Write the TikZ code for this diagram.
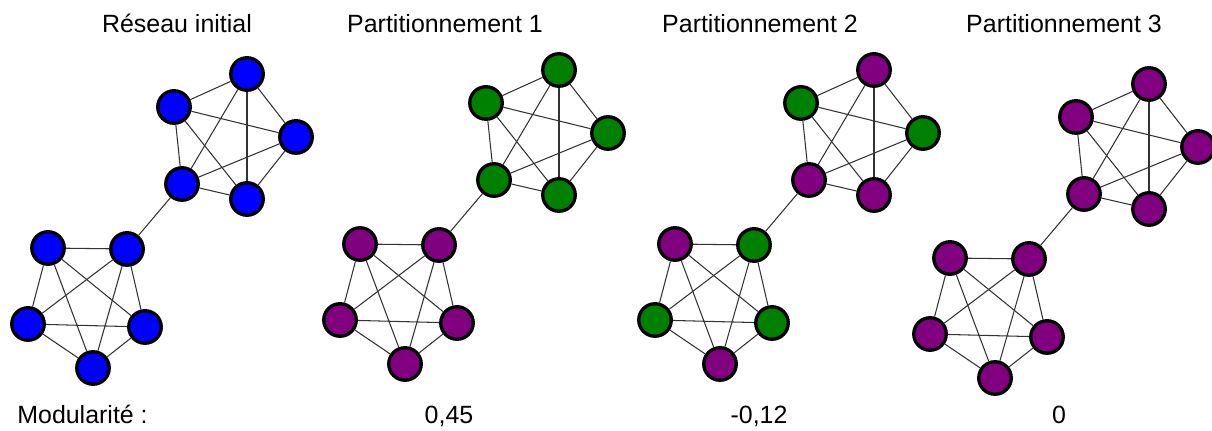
\documentclass[tikz,border=0pt]{standalone}
\usepackage{fontspec}
\setmainfont{Liberation Sans}
\definecolor{nodeblue}{RGB}{0,0,255}
\definecolor{nodegreen}{RGB}{0,128,0}
\definecolor{nodepurple}{RGB}{128,0,128}
\tikzset{vertex/.style = {circle,draw,line width=1.9pt,minimum size=0.65cm,inner sep=0pt},
  link/.style = {line width=0.6pt,black!80},
  caption/.style = {font=\fontsize{14.2}{17}\selectfont,anchor=base,inner sep=0pt}}

\begin{document}
\begin{tikzpicture}[x=0.02cm,y=-0.02cm]
  \useasboundingbox (0,0) rectangle (1212,431);

  % titles
  \node[caption] (t1) at (177,33) {Réseau initial};
  \node[caption] (t2) at (445,33) {Partitionnement 1};
  \node[caption] (t3) at (760,33) {Partitionnement 2};
  \node[caption] (t4) at (1064,33) {Partitionnement 3};

  % modularity values
  \node[caption,anchor=base west] (m0) at (17,424) {Modularité :};
  \node[caption] (m2) at (449,424) {0,45};
  \node[caption] (m3) at (759,424) {-0,12};
  \node[caption] (m4) at (1059,424) {0};

  % one graph per partition
  \foreach \g/\dx/\dy/\ca/\cb/\cc/\cd/\ce/\cf/\cg/\ch/\ci/\cj in {
      1/0/0/nodeblue/nodeblue/nodeblue/nodeblue/nodeblue/nodeblue/nodeblue/nodeblue/nodeblue/nodeblue,
      2/312/-4/nodegreen/nodegreen/nodegreen/nodegreen/nodegreen/nodepurple/nodepurple/nodepurple/nodepurple/nodepurple,
      3/627/-4/nodegreen/nodepurple/nodegreen/nodepurple/nodepurple/nodepurple/nodegreen/nodegreen/nodepurple/nodegreen,
      4/902/10/nodepurple/nodepurple/nodepurple/nodepurple/nodepurple/nodepurple/nodepurple/nodepurple/nodepurple/nodepurple}
  {
    \begin{scope}[shift={(\dx,\dy)}]
      \node[vertex,fill=\ca] (\g a) at (174,107) {};
      \node[vertex,fill=\cb] (\g b) at (247,74) {};
      \node[vertex,fill=\cc] (\g c) at (296,137) {};
      \node[vertex,fill=\cd] (\g d) at (247,199) {};
      \node[vertex,fill=\ce] (\g e) at (182,184) {};
      \node[vertex,fill=\cf] (\g f) at (48,248) {};
      \node[vertex,fill=\cg] (\g g) at (127,249) {};
      \node[vertex,fill=\ch] (\g h) at (145,327) {};
      \node[vertex,fill=\ci] (\g i) at (93,368) {};
      \node[vertex,fill=\cj] (\g j) at (28,324) {};
    \end{scope}
    \foreach \u/\v in {a/b,a/c,a/d,a/e,b/c,b/d,b/e,c/d,c/e,d/e,
                       f/g,f/h,f/i,f/j,g/h,g/i,g/j,h/i,h/j,i/j,e/g}
      \draw[link] (\g\u) -- (\g\v);
  }
\end{tikzpicture}
\end{document}
